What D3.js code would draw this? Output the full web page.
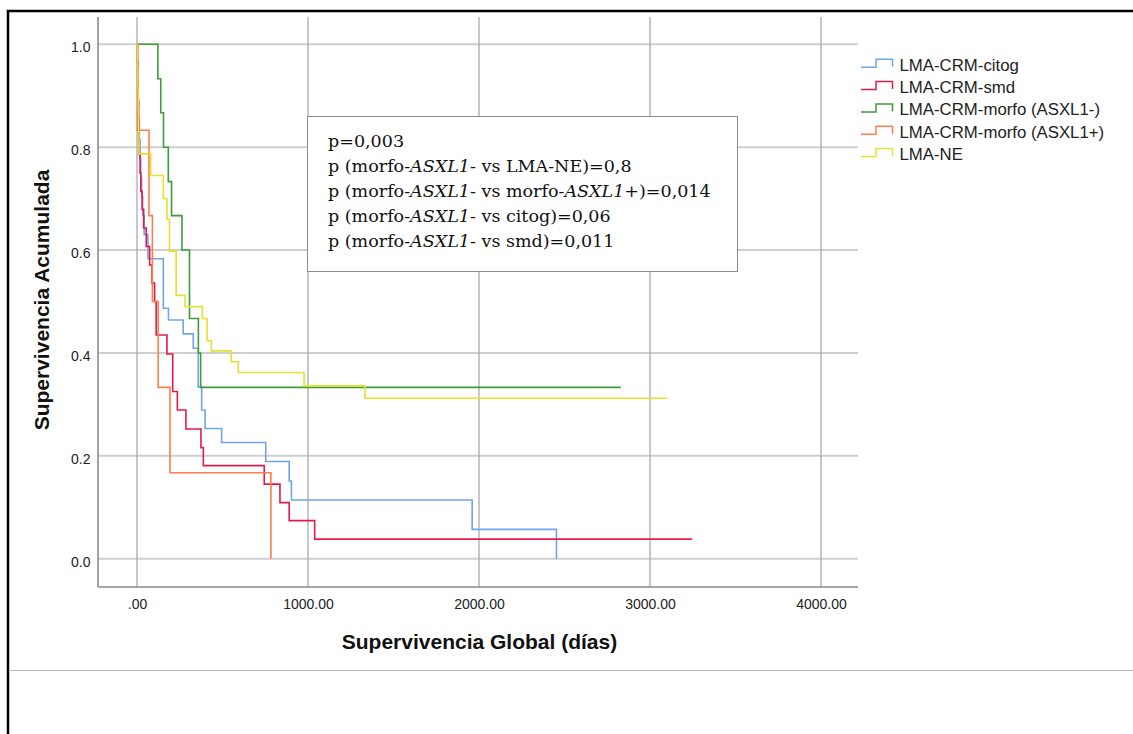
<!DOCTYPE html>
<html><head><meta charset="utf-8">
<script src="https://cdn.jsdelivr.net/npm/d3@7"></script>
<style>html,body{margin:0;padding:0;background:#fff;overflow:hidden}</style>
</head><body><svg id="c" width="1133" height="734"></svg>
<script>
// ---------- data ----------
const seriesNames = ["LMA-CRM-citog","LMA-CRM-smd","LMA-CRM-morfo (ASXL1-)","LMA-CRM-morfo (ASXL1+)","LMA-NE"];
const seriesColors = ["#6fa5ec","#e01c4a","#3f9c3c","#ff7d48","#e9df2e"];

const citogDays = [0,2,4,6,10,14,18,22,27,33,42,64,154,184,270,329,358,378,398,495,753,890,903,1960,2453];
const citogSurv = [1,0.963,0.926,0.889,0.852,0.815,0.778,0.741,0.704,0.667,0.630,0.583,0.487,0.464,0.437,0.409,0.334,0.289,0.253,0.226,0.189,0.151,0.114,0.057,0];

const smdDays = [0,3,5,7,9,11,13,18,22,30,39,54,74,88,103,112,175,209,236,286,374,388,744,836,890,1039,3245];
const smdSurv = [1,0.964,0.929,0.893,0.857,0.821,0.786,0.750,0.714,0.679,0.643,0.607,0.571,0.536,0.500,0.435,0.398,0.325,0.289,0.252,0.216,0.181,0.145,0.109,0.074,0.038,0.038];

const morfoNegDays = [0,122,139,155,183,202,263,307,359,372,2829];
const morfoNegSurv = [1,0.933,0.867,0.800,0.733,0.667,0.600,0.467,0.400,0.333,0.333];

const morfoPosDays = [0,3,70,90,124,193,783];
const morfoPosSurv = [1,0.833,0.667,0.500,0.333,0.167,0];

const neDays = [0,2,5,8,10,12,80,154,175,190,229,281,382,410,435,551,592,977,1333,3102];
const neSurv = [1,0.957,0.915,0.872,0.830,0.787,0.745,0.700,0.660,0.598,0.512,0.490,0.467,0.424,0.404,0.383,0.362,0.336,0.312,0.312];

const xTicks = [0,1000,2000,3000,4000];
const xTickLabels = [".00","1000.00","2000.00","3000.00","4000.00"];
const yTicks = [0,0.2,0.4,0.6,0.8,1.0];
const yTickLabels = ["0.0","0.2","0.4","0.6","0.8","1.0"];

const xTitle = "Supervivencia Global (días)";
const yTitle = "Supervivencia Acumulada";

const noteLines = [
  [["p=0,003",false]],
  [["p (morfo-",false],["ASXL1",true],["- vs LMA-NE)=0,8",false]],
  [["p (morfo-",false],["ASXL1",true],["- vs morfo-",false],["ASXL1",true],["+)=0,014",false]],
  [["p (morfo-",false],["ASXL1",true],["- vs citog)=0,06",false]],
  [["p (morfo-",false],["ASXL1",true],["- vs smd)=0,011",false]]
];

// ---------- layout ----------
const svg = d3.select("#c");
const L = 98, R = 858, T = 17, B = 587;
const x = d3.scaleLinear().domain([0,4000]).range([137,821]);
const y = d3.scaleLinear().domain([0,1]).range([558.7,44.3]);
const sans = "'Liberation Sans', Arial, sans-serif";

svg.append("rect").attr("width",1133).attr("height",734).attr("fill","#fff");
// outer frame
svg.append("rect").attr("x",8).attr("y",11).attr("width",1140).attr("height",740)
  .attr("fill","none").attr("stroke","#000").attr("stroke-width",2.5);
svg.append("line").attr("x1",9).attr("x2",1133).attr("y1",670.5).attr("y2",670.5)
  .attr("stroke","#bdbdbd").attr("stroke-width",1);

// gridlines
svg.append("g").selectAll("line").data(yTicks).join("line")
  .attr("x1",L).attr("x2",R).attr("y1",d=>y(d)).attr("y2",d=>y(d))
  .attr("stroke","#cfcfcf").attr("stroke-width",2);
svg.append("g").selectAll("line").data(xTicks).join("line")
  .attr("x1",d=>x(d)).attr("x2",d=>x(d)).attr("y1",T).attr("y2",B)
  .attr("stroke","#ababab").attr("stroke-width",1.3);

// axes lines
svg.append("line").attr("x1",L).attr("x2",L).attr("y1",T).attr("y2",B).attr("stroke","#8a8a8a").attr("stroke-width",1.6);
svg.append("line").attr("x1",L).attr("x2",R).attr("y1",B).attr("y2",B).attr("stroke","#8a8a8a").attr("stroke-width",1.6);

// axes labels
const xa = svg.append("g").attr("transform",`translate(0,${B})`)
  .call(d3.axisBottom(x).tickValues(xTicks).tickFormat((d,i)=>xTickLabels[i]).tickSize(0).tickPadding(12));
xa.select(".domain").remove();
xa.selectAll("text").attr("font-family",sans).attr("font-size",14).attr("fill","#222");

const ya = svg.append("g").attr("transform",`translate(${L},0)`)
  .call(d3.axisLeft(y).tickValues(yTicks).tickFormat((d,i)=>yTickLabels[i]).tickSize(0).tickPadding(7.5));
ya.select(".domain").remove();
ya.selectAll("text").attr("font-family",sans).attr("font-size",14).attr("fill","#222").attr("dy","0.54em");

// titles
svg.append("text").attr("x",479.5).attr("y",649).attr("text-anchor","middle")
  .attr("font-family",sans).attr("font-weight","bold").attr("font-size",21).attr("fill","#111").text(xTitle);
svg.append("text").attr("transform","translate(49,300) rotate(-90)").attr("text-anchor","middle")
  .attr("font-family",sans).attr("font-weight","bold").attr("font-size",21).attr("fill","#111").text(yTitle);

// curves
const series = [
  [citogDays,citogSurv],[smdDays,smdSurv],[morfoNegDays,morfoNegSurv],[morfoPosDays,morfoPosSurv],[neDays,neSurv]
];
const line = d3.line().x(d=>x(d[0])).y(d=>y(d[1])).curve(d3.curveStepAfter);
series.forEach(([dd,ss],i)=>{
  svg.append("path").attr("d",line(dd.map((t,k)=>[t,ss[k]])))
    .attr("fill","none").attr("stroke",seriesColors[i]).attr("stroke-width",1.6)
    .attr("stroke-linejoin","miter");
});

// annotation box
svg.append("rect").attr("x",307.5).attr("y",116.5).attr("width",430).attr("height",155)
  .attr("fill","#fff").attr("stroke","#8c8c8c").attr("stroke-width",1);
const serif = "'DejaVu Serif', 'Liberation Serif', serif";
const noteG = svg.append("g").attr("font-family",serif).attr("fill","#111").attr("font-size",17);
const noteTexts = noteLines.map((parts,i)=>{
  const t = noteG.append("text").attr("x",328).attr("y",146.5+i*25);
  parts.forEach(([s,it])=>t.append("tspan").attr("font-style",it?"italic":"normal").text(s));
  return t;
});
const w = noteTexts[2].node().getComputedTextLength();
noteG.attr("font-size",17*383/w);

// legend
const lg = svg.append("g");
seriesNames.forEach((n,i)=>{
  const by = 70.7 + i*22.3;
  lg.append("path").attr("d",`M861,${by-3.4}H876V${by-11.4}H892.5V${by-3.9}`)
    .attr("fill","none").attr("stroke",seriesColors[i]).attr("stroke-width",1.5);
  lg.append("text").attr("x",899.5).attr("y",by).attr("font-family",sans).attr("font-size",16.8)
    .attr("fill","#222").text(n);
});
</script></body></html>
